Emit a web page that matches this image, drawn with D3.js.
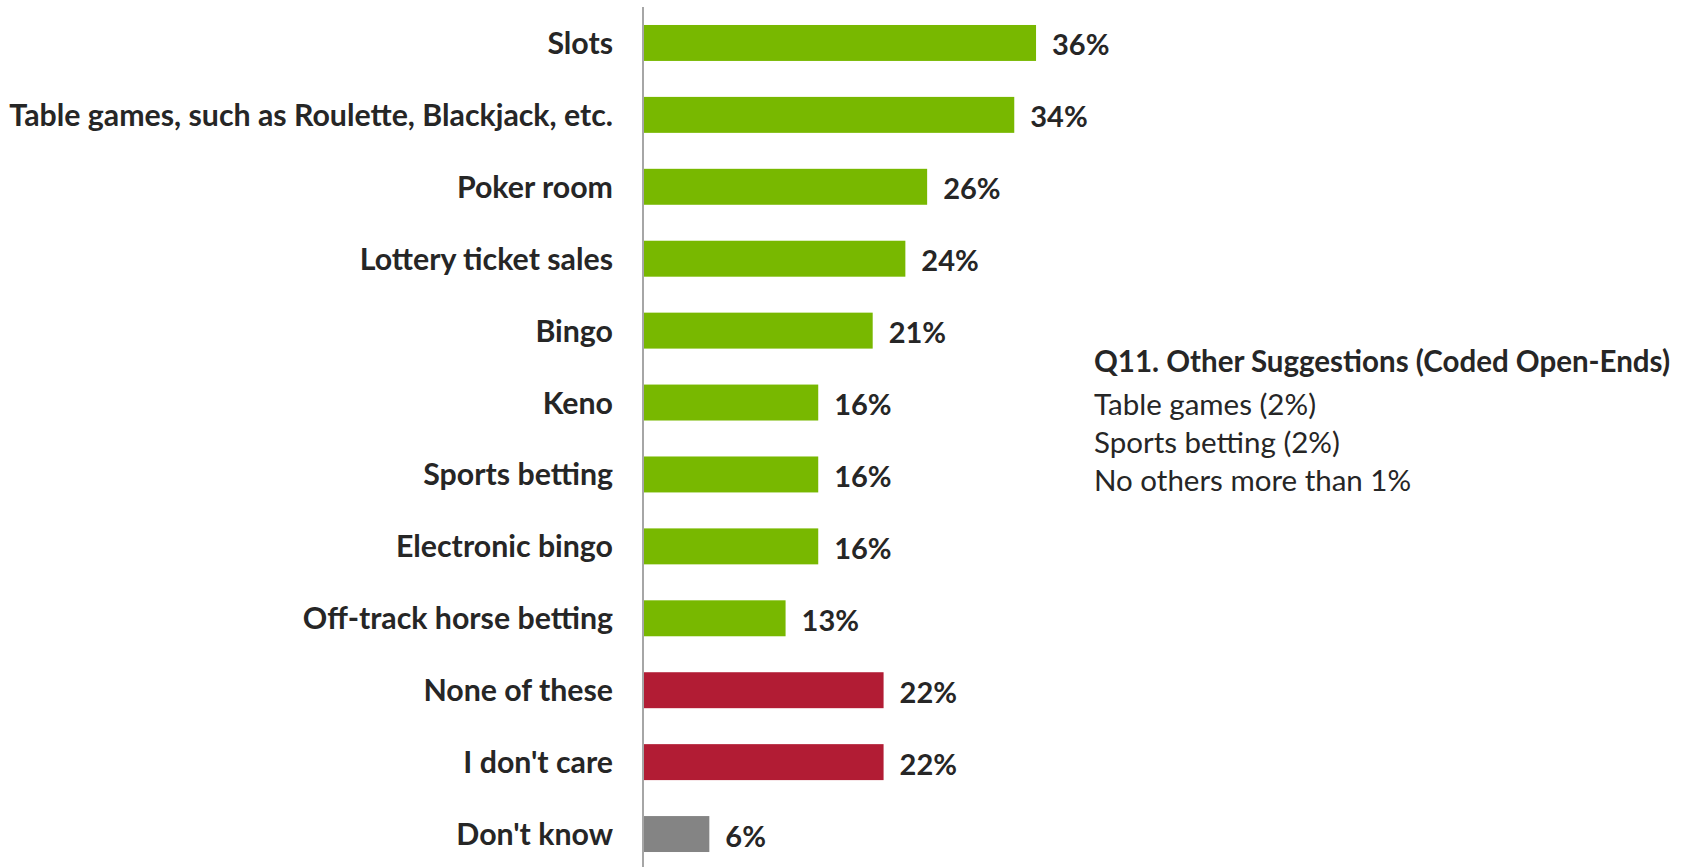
<!DOCTYPE html>
<html>
<head>
<meta charset="utf-8">
<script src="https://cdn.jsdelivr.net/npm/d3@7"></script>
<style>
  html, body { margin: 0; padding: 0; background: #ffffff; }
  svg { display: block; }
</style>
</head>
<body>
<svg id="chart" width="1687" height="867"></svg>
<script>
const categories = [
  "Slots",
  "Table games, such as Roulette, Blackjack, etc.",
  "Poker room",
  "Lottery ticket sales",
  "Bingo",
  "Keno",
  "Sports betting",
  "Electronic bingo",
  "Off-track horse betting",
  "None of these",
  "I don't care",
  "Don't know"
];
const values = [36, 34, 26, 24, 21, 16, 16, 16, 13, 22, 22, 6];
const groups = ["yes", "yes", "yes", "yes", "yes", "yes", "yes", "yes", "yes", "no", "no", "dk"];
const noteTitle = "Q11. Other Suggestions (Coded Open-Ends)";
const noteLines = ["Table games (2%)", "Sports betting (2%)", "No others more than 1%"];

const colors = { yes: "#78B800", no: "#B21C34", dk: "#848484" };
const textColor = "#262626";
const fontFamily = "Lato, 'Open Sans', sans-serif";

const svg = d3.select("#chart");
const x0 = 644;
const x = d3.scaleLinear().domain([0, 100]).range([x0, x0 + 1089]);
const y = d3.scaleBand().domain(categories).range([7, 870]).paddingInner(0.5).paddingOuter(0.25);

const data = categories.map((c, i) => ({ c, v: values[i], g: groups[i] }));

svg.append("g").selectAll("rect").data(data).join("rect")
  .attr("x", x(0))
  .attr("y", d => y(d.c))
  .attr("width", d => x(d.v) - x(0))
  .attr("height", y.bandwidth())
  .attr("fill", d => colors[d.g]);

// axis line
svg.append("line")
  .attr("x1", 643).attr("x2", 643)
  .attr("y1", 7).attr("y2", 867)
  .attr("stroke", "#A6A6A6").attr("stroke-width", 2);

// category labels
svg.append("g").selectAll("text").data(data).join("text")
  .attr("x", 613)
  .attr("y", d => y(d.c) + y.bandwidth() / 2 - 1)
  .attr("text-anchor", "end")
  .attr("dominant-baseline", "central")
  .attr("font-family", fontFamily)
  .attr("font-weight", "bold")
  .attr("font-size", 30.3)
  .attr("fill", textColor)
  .text(d => d.c);

// value labels
svg.append("g").selectAll("text").data(data).join("text")
  .attr("x", d => x(d.v) + 16)
  .attr("y", d => y(d.c) + y.bandwidth() / 2 + 1)
  .attr("dominant-baseline", "central")
  .attr("font-family", fontFamily)
  .attr("font-weight", "bold")
  .attr("font-size", 29)
  .attr("fill", textColor)
  .text(d => d.v + "%");

// note block
const note = svg.append("g").attr("font-family", fontFamily).attr("fill", textColor);
note.append("text")
  .attr("x", 1094).attr("y", 372)
  .attr("font-weight", "bold").attr("font-size", 29.5)
  .text(noteTitle);
note.selectAll("text.line").data(noteLines).join("text")
  .attr("class", "line")
  .attr("x", 1094)
  .attr("y", (d, i) => 415 + i * 38)
  .attr("font-size", 29.5)
  .text(d => d);
</script>
</body>
</html>
